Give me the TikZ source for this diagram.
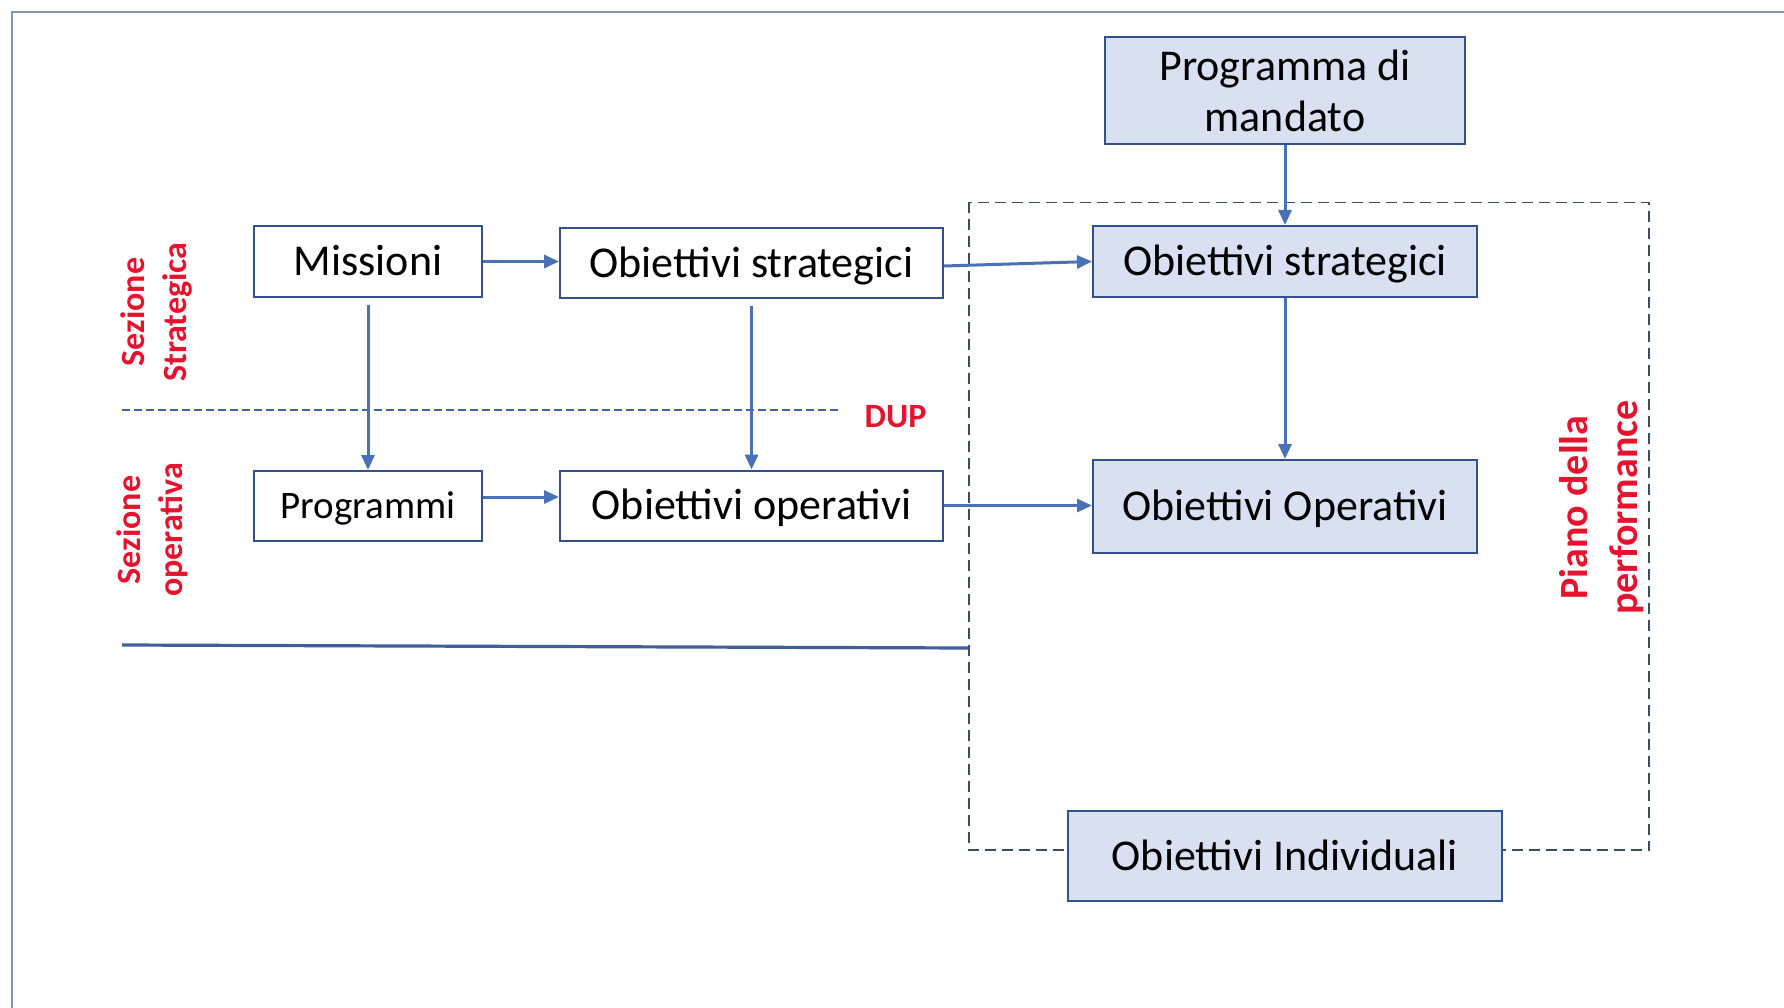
\documentclass[tikz,border=0pt]{standalone}
\usepackage{fontspec}
\setmainfont{Carlito}
\usetikzlibrary{arrows.meta}
\definecolor{boxline}{HTML}{34508A}
\definecolor{boxfill}{HTML}{D9E0F2}
\definecolor{arrowc}{HTML}{4A70B5}
\definecolor{redc}{HTML}{E5132E}
\definecolor{dashc}{HTML}{3F4B5E}
\definecolor{framec}{HTML}{8397B3}
\begin{document}
\begin{tikzpicture}[x=1pt,y=-1pt,
  box/.style={draw=boxline,line width=2pt,inner sep=0pt,align=center,text=black,
    font=\fontsize{44}{51}\selectfont},
  onel/.style={text height=28.5pt,text depth=0pt},
  bluebox/.style={box,fill=boxfill},
  conn/.style={draw=arrowc,line width=3pt,-{Triangle[length=15pt,width=13pt]}},
  redlab/.style={text=redc,font=\bfseries\fontsize{34}{42}\selectfont,rotate=90,align=center,inner sep=0pt},
  dupline/.style={draw=arrowc!90!black,line width=1.8pt,dash pattern=on 8pt off 4pt},
  dashbox/.style={draw=dashc,line width=1.8pt,dash pattern=on 11pt off 6pt},
  solidline/.style={draw=arrowc!85!black,line width=3.2pt}
]
\useasboundingbox (0,0) rectangle (1784,1008);
\fill[white] (0,0) rectangle (1784,1008);
\draw[framec,line width=2pt] (11.5,1012) -- (11.5,12) -- (1788,12);

% dashed frame of the Piano della performance
\draw[dashbox] (969,202.5) rectangle (1649,850);

% left column nodes
\node[box,onel,minimum width=228pt,minimum height=70pt] (mis) at (368,261.5) {Missioni};
\node[box,onel,text height=25pt,minimum width=228pt,minimum height=70pt,font=\fontsize{39}{46}\selectfont] (prog) at (368,506) {Programmi};
\node[box,onel,minimum width=383pt,minimum height=70pt] (osl) at (751.5,263) {Obiettivi strategici};
\node[box,onel,minimum width=383pt,minimum height=70pt] (ool) at (751.5,505.5) {Obiettivi operativi};

% right column nodes
\node[bluebox,minimum width=360pt,minimum height=107pt] (pdm) at (1285,91) {Programma di\\mandato};
\node[bluebox,onel,minimum width=384pt,minimum height=71pt] (osr) at (1285,261.5) {Obiettivi strategici};
\node[bluebox,onel,minimum width=384pt,minimum height=93pt] (oor) at (1285,506.5) {Obiettivi Operativi};
\node[bluebox,onel,minimum width=434pt,minimum height=90pt] (oind) at (1285,856) {Obiettivi Individuali};

% separator lines
\coordinate (dupL) at (122,409.6);
\coordinate (dupR) at (842,409.6);
\draw[dupline] (dupL) -- (dupR);
\coordinate (solL) at (122,645);
\coordinate (solR) at (969,648);
\draw[solidline] (solL) -- (solR);

% labels
\node[redlab] (ss) at (156,312) {Sezione\\Strategica};
\node[redlab] (so) at (152.5,530) {Sezione\\operativa};
\node[redlab,font=\bfseries\fontsize{40}{50}\selectfont] (pp) at (1602,507.5) {Piano della\\performance};
\node[text=redc,font=\bfseries\fontsize{34}{42}\selectfont,inner sep=0pt] (dup) at (895.5,416.5) {DUP};

% connectors
\draw[conn] (mis.east) -- (mis.east -| osl.west);
\draw[conn] ([yshift=9pt]prog.east) -- ([yshift=9pt]prog.east -| ool.west);
\draw[conn] ([yshift=-7pt]mis.south) -- (prog.north);
\draw[conn] ([yshift=-7pt]osl.south) -- (ool.north);
\draw[conn] ([yshift=-3pt]osl.east) -- (osr.west);
\draw[conn] (ool.east) -- (ool.east -| oor.west);
\draw[conn] (pdm.south) -- (osr.north);
\draw[conn] (osr.south) -- (oor.north);
\end{tikzpicture}
\end{document}
